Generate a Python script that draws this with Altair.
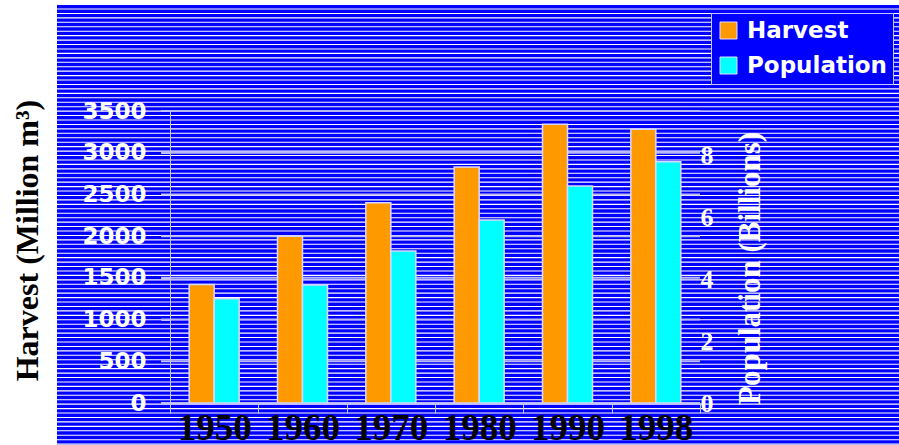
import altair as alt
import pandas as pd

# ---- data ----
years = ["1950", "1960", "1970", "1980", "1990", "1998"]
harvest = [1420, 2000, 2400, 2830, 3340, 3280]          # Million m3 (left axis)
population = [3.36, 3.81, 4.90, 5.90, 7.00, 7.78]       # Billions (right axis, as drawn)
harvest_ticks = [0, 500, 1000, 1500, 2000, 2500, 3000, 3500]
population_ticks = [0, 2, 4, 6, 8]
series = ["Harvest", "Population"]
series_colors = ["#FF9900", "#00FFFF"]
stripe_count = 99

df = pd.DataFrame({"year": years, "harvest": harvest, "population": population})

W, H = 530, 292
BLUE = "#0000FF"
LAV = "#C4C4FF"
SERIF = "Liberation Serif"
SANS = "DejaVu Sans"

x_enc = alt.X(
    "year:N",
    sort=years,
    scale=alt.Scale(paddingInner=0, paddingOuter=0),
    axis=alt.Axis(
        title=None,
        tickBand="extent",
        tickSize=10,
        tickColor=LAV,
        domainColor=LAV,
        labelFont=SERIF,
        labelFontWeight="bold",
        labelFontSize=37,
        labelColor="black",
        labelBaseline="alphabetic",
        labelPadding=26,
        labelAngle=0,
        labelOverlap=False,
        labelBound=False,
        zindex=1,
    ),
)
xoff_enc = alt.XOffset(
    "series:N", scale=alt.Scale(domain=series, paddingInner=0, paddingOuter=0.767)
)
color_enc = alt.Color(
    "series:N",
    scale=alt.Scale(domain=series, range=series_colors),
    legend=alt.Legend(
        title=None,
        orient="none",
        legendX=541,
        legendY=-98,
        fillColor=BLUE,
        strokeColor=LAV,
        padding=6,
        symbolType="square",
        symbolSize=289,
        symbolStrokeColor="#E0E0FF",
        symbolStrokeWidth=1,
        symbolOpacity=1,
        labelFont=SANS,
        labelFontWeight="bold",
        labelFontSize=23,
        labelColor="white",
        labelOffset=7,
        rowPadding=11,
    ),
)

# blue backdrop
bg = alt.Chart(alt.Data(values=[{"k": 1}])).mark_rect(color=BLUE).encode(
    x=alt.value(-113), x2=alt.value(740), y=alt.value(-106), y2=alt.value(340)
)

# white horizontal stripes of the backdrop
stripes = (
    alt.Chart(alt.sequence(0, stripe_count, as_="i"))
    .mark_rule(color="white", strokeWidth=1.1)
    .encode(
        y=alt.Y(
            "i:Q",
            scale=alt.Scale(domain=[0, stripe_count - 1], range=[-102, -102 + 4.44 * (stripe_count - 1)], nice=False, zero=False),
            axis=None,
        ),
        x=alt.value(-113),
        x2=alt.value(740),
    )
)

# gridlines (drawn under the bars)
grid = (
    alt.Chart(pd.DataFrame({"v": harvest_ticks}))
    .mark_rule(color="#B8B8F4", strokeWidth=2)
    .encode(
        y=alt.Y("v:Q", scale=alt.Scale(domain=[0, 3500], nice=False), axis=None),
        x=alt.value(-9),
        x2=alt.value("width"),
    )
)

harvest_bars = (
    alt.Chart(df)
    .transform_calculate(series="'Harvest'")
    .mark_bar(stroke="#D8D8FF", strokeWidth=1.5)
    .encode(
        x=x_enc,
        xOffset=xoff_enc,
        color=color_enc,
        y=alt.Y(
            "harvest:Q",
            scale=alt.Scale(domain=[0, 3500], nice=False),
            axis=alt.Axis(
                orient="left",
                values=harvest_ticks,
                format="d",
                grid=False,
                tickSize=9,
                tickColor=LAV,
                domainColor=LAV,
                labelFont=SANS,
                labelFontWeight="bold",
                labelFontSize=23,
                labelColor="white",
                labelPadding=15,
                labelOverlap=False,
                labelBound=False,
                title="Harvest (Million m³)",
                titleFont=SERIF,
                titleFontWeight="bold",
                titleFontSize=32,
                titleColor="black",
                titleAngle=270,
                titleAlign="center",
                titleBaseline="alphabetic",
                titleX=-133,
                titleY=129,
                zindex=1,
            ),
        ),
    )
)

population_bars = (
    alt.Chart(df)
    .transform_calculate(series="'Population'")
    .mark_bar(stroke="#D8D8FF", strokeWidth=1.5)
    .encode(
        x=alt.X("year:N", sort=years),
        xOffset=xoff_enc,
        color=color_enc,
        y=alt.Y(
            "population:Q",
            scale=alt.Scale(domain=[0, 292 / 31], nice=False),
            axis=alt.Axis(
                orient="right",
                values=population_ticks,
                format="d",
                grid=False,
                ticks=False,
                domain=False,
                labelFont=SERIF,
                labelFontWeight="bold",
                labelFontSize=26,
                labelColor="white",
                labelPadding=0,
                labelOverlap=False,
                labelBound=False,
                title="Population (Billions)",
                titleFont=SERIF,
                titleFontWeight="bold",
                titleFontSize=31,
                titleColor="white",
                titleAngle=270,
                titleAlign="center",
                titleBaseline="alphabetic",
                titleX=59,
                titleY=157,
                zindex=1,
            ),
        ),
    )
)

chart = (
    alt.layer(bg, stripes, grid, harvest_bars, population_bars)
    .resolve_scale(y="independent")
    .properties(
        width=W,
        height=H,
        autosize=alt.AutoSizeParams(type="none"),
        padding={"left": 170, "top": 111, "right": 199, "bottom": 42},
        background="white",
    )
    .configure_view(stroke=None)
)

chart.save("out.html", embed_options={"renderer": "svg", "actions": False})
